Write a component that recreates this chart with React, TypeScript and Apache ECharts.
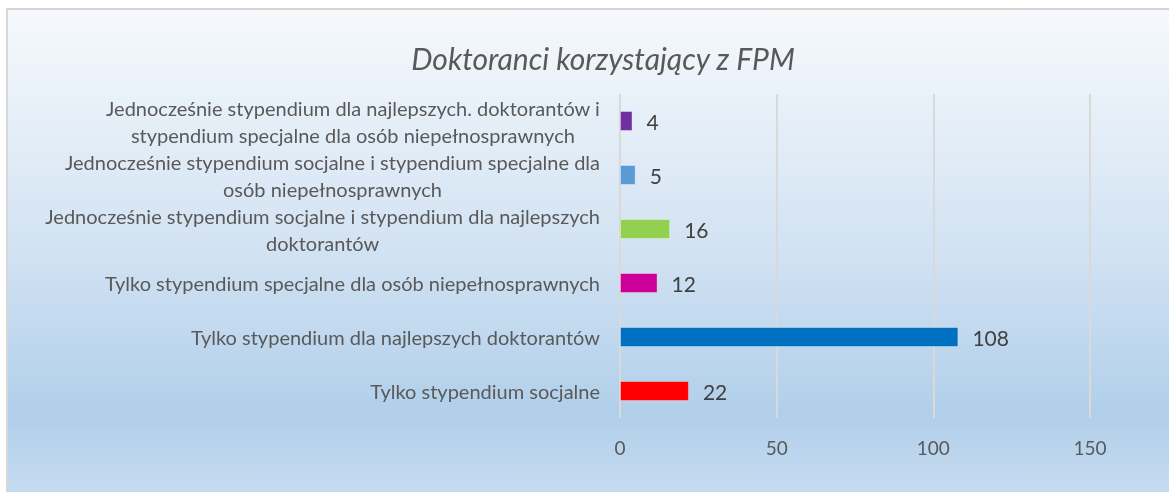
import React, { useEffect, useRef } from "react";
import * as echarts from "echarts";

const categories = [
  "Tylko stypendium socjalne",
  "Tylko stypendium dla najlepszych doktorantów",
  "Tylko stypendium specjalne dla osób niepełnosprawnych",
  "Jednocześnie stypendium socjalne i stypendium dla najlepszych\ndoktorantów",
  "Jednocześnie stypendium socjalne i stypendium specjalne dla\nosób niepełnosprawnych",
  "Jednocześnie stypendium dla najlepszych. doktorantów i\nstypendium specjalne dla osób niepełnosprawnych",
];
const values = [22, 108, 12, 16, 5, 4];
const barColors = ["#ff0000", "#0070c0", "#cc0099", "#92d050", "#5b9bd5", "#7030a0"];
const xTicks = [0, 50, 100, 150];
const titleText = "Doktoranci korzystający z FPM";

const FONT = "Lato, 'Open Sans', sans-serif";

export default function App() {
  const ref = useRef<HTMLDivElement>(null);
  useEffect(() => {
    if (!ref.current) return;
    const chart = echarts.init(ref.current, null, { renderer: "svg" });
    chart.setOption({
      animation: false,
      textStyle: { fontFamily: FONT },
      graphic: [
        {
          type: "rect",
          z: -10,
          silent: true,
          shape: { x: 7, y: 9, width: 1200, height: 520 },
          style: {
            fill: new echarts.graphic.LinearGradient(0, 0, 0, 1, [
              { offset: 0, color: "#f6f9fc" },
              { offset: 0.45, color: "#d3e3f3" },
              { offset: 0.78, color: "#b1cfea" },
              { offset: 1, color: "#cfe1f3" },
            ]),
            stroke: "#d6d6d6",
            lineWidth: 2,
          },
        },
      ],
      title: {
        text: titleText,
        left: 598,
        textAlign: "center",
        top: 38,
        textStyle: {
          fontFamily: FONT,
          fontStyle: "italic",
          fontWeight: "normal",
          fontSize: 30,
          color: "#595959",
        },
      },
      grid: { left: 620, right: 79, top: 94, bottom: 74, containLabel: false },
      xAxis: {
        type: "value",
        min: xTicks[0],
        max: xTicks[xTicks.length - 1],
        interval: 50,
        axisLine: { show: false },
        axisTick: { show: false },
        splitLine: { lineStyle: { color: "#d9d9d9", width: 2 } },
        axisLabel: { color: "#595959", fontSize: 19, margin: 20, fontFamily: FONT },
      },
      yAxis: {
        type: "category",
        data: categories,
        axisLine: { show: false },
        axisTick: { show: false },
        axisLabel: {
          color: "#595959",
          fontSize: 20,
          lineHeight: 27,
          margin: 20,
          align: "right",
          fontFamily: FONT,
          formatter: (v: string) =>
            v
              .split("\n")
              .map((line) => "{c|" + line + "}")
              .join("\n"),
          rich: {
            c: {
              align: "center",
              color: "#595959",
              fontSize: 20,
              lineHeight: 27,
              fontFamily: FONT,
            },
          },
        },
      },
      series: [
        {
          type: "bar",
          barWidth: 20,
          data: values.map((v, i) => ({
            value: v,
            itemStyle: { color: barColors[i], borderColor: "rgba(255,255,255,0.35)", borderWidth: 1 },
          })),
          label: {
            show: true,
            position: "right",
            distance: 14,
            color: "#404040",
            fontSize: 21,
            fontFamily: FONT,
          },
        },
      ],
    });
    return () => chart.dispose();
  }, []);
  return (
    <div
      ref={ref}
      style={{ position: "fixed", left: 0, top: 0, width: 1169, height: 492 }}
    />
  );
}
